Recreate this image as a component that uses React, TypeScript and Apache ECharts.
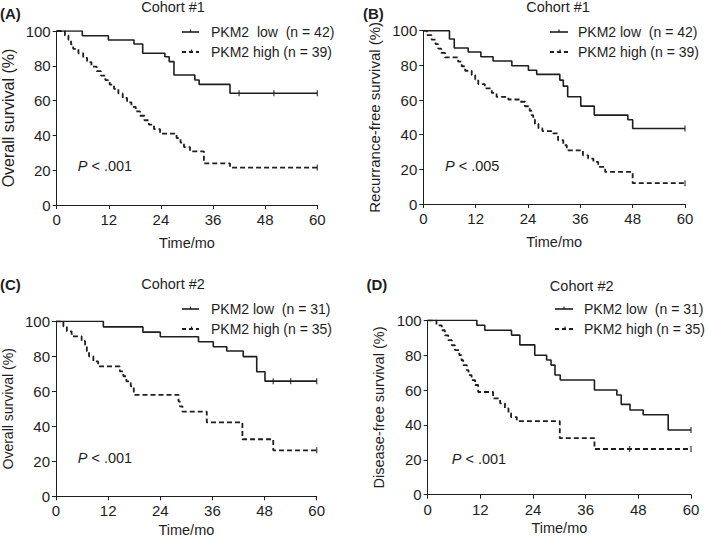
import React, { useEffect, useRef } from "react";
import * as echarts from "echarts";

// ---- Data (months, survival %) ----
const lowA = [[0,100],[5.9,97.3],[11.9,94.8],[17.8,92.5],[19.8,87.2],[24.9,85.2],[25.9,82.4],[27,74.7],[31.8,71.8],[32.8,69.3],[39.9,64.2],[60,64.2]];
const highA = [[0,100],[1.9,97.4],[2.7,94.9],[3.3,92.3],[3.8,89.7],[5,87.2],[6.1,84.6],[7,82.1],[8,79.5],[9.2,76.9],[10.2,74.4],[11.2,71.8],[12.2,69.2],[13.2,66.7],[14.2,64.1],[15.2,61.5],[16.2,59],[17.2,56.4],[18.2,53.8],[19.2,51.3],[20.2,48.7],[21.2,46.2],[22.4,43.6],[23.8,41],[27.6,38.5],[28.5,35.9],[29.3,33.3],[30.7,30.8],[33.9,23.9],[39.9,21.5],[60,21.5]];
const lowB = [[0,100],[6,95.2],[7.1,90],[10.3,87.7],[13.2,85],[16,82.5],[20.3,79.8],[24.1,77.2],[26,74.8],[31.3,71.5],[32.1,68],[33.1,61.9],[36.1,56.5],[39.2,51.3],[46.9,48.6],[48,43.6],[60,43.6]];
const highB = [[0,100],[0.8,97.4],[1.9,94.9],[2.8,92.3],[3.4,89.7],[4.1,87.2],[5,84.6],[8,82.1],[8.8,79.5],[9.6,76.9],[11.1,74.4],[11.9,71.8],[12.6,69.2],[14.1,66.7],[15.7,64.1],[16.8,61.8],[19.5,60.3],[22.2,59],[23.3,56.4],[24.4,53.8],[24.8,51.3],[25.2,48.7],[25.6,46.2],[26.4,43.6],[27.3,42.1],[29.8,40.7],[30.9,36.8],[32.1,33.9],[32.9,31],[36.6,28.1],[37.8,26.2],[39,24.3],[40.1,21.4],[41.7,18.5],[48,12],[60,12]];
const lowC = [[0,100],[10.9,96.8],[20,93.8],[24,91.2],[32.8,88.3],[36.2,85.5],[39.3,83],[43.1,79.8],[46.2,71.2],[48.1,65.8],[60,65.8]];
const highC = [[0,100],[1.7,97.1],[2.5,94.3],[3.6,91.4],[5.9,88.6],[6.7,85.7],[7.1,82.9],[7.6,80],[8.6,77.1],[9.7,74.3],[14.7,71.4],[15.5,68.6],[16.2,65.7],[17.2,62.9],[17.9,58],[28.2,54.2],[28.5,51.4],[29.1,48.4],[34.7,42.3],[42.9,32.6],[50,26.3],[60,26.3]];
const lowD = [[0,100],[11.2,97.2],[13,94.3],[19.1,91.5],[21,85.9],[24.4,80],[27.1,77.2],[28.1,74.3],[29,68.6],[30.2,65.8],[38,60],[43.1,57.2],[44.1,51.8],[46.1,48.6],[49.1,45.8],[54.8,37.1],[60,37.1]];
const highD = [[0,100],[2,97.1],[3.2,94.3],[3.9,91.4],[4.7,88.6],[5.5,85.7],[6.2,82.9],[7.2,80],[7.7,77.1],[8.1,74.3],[8.9,71.4],[9.3,68.6],[10,65.7],[10.8,62.9],[11.5,58.9],[14.9,55.2],[16.5,52.4],[17.6,49.5],[18.4,46.7],[19,44.5],[20.3,42.2],[30.1,32.4],[38,26.2],[60,26.2]];

// censor marks
const censorLowA = [[42,64.2],[50,64.2],[60,64.2]];
const censorHighA = [[60,21.5]];
const censorLowB = [[60,43.6]];
const censorHighB = [[60,12]];
const censorLowC = [[50,65.8],[54,65.8],[60,65.8]];
const censorHighC = [[60,26.3]];
const censorLowD = [[60,37.1]];
const censorHighD = [[46,26.2],[60,26.2]];

const panelLetters = ["(A)", "(B)", "(C)", "(D)"];
const cohortTitles = ["Cohort #1", "Cohort #1", "Cohort #2", "Cohort #2"];
const yAxisNames = ["Overall survival (%)", "Recurrance-free survival (%)", "Overall survival (%)", "Disease-free survival (%)"];
const xAxisName = "Time/mo";
const lowLabels = ["PKM2  low  (n = 42)", "PKM2 low  (n = 42)", "PKM2 low  (n = 31)", "PKM2 low  (n = 31)"];
const highLabels = ["PKM2 high (n = 39)", "PKM2 high (n = 39)", "PKM2 high (n = 35)", "PKM2 high (n = 35)"];
const pValues = ["< .001", "< .005", "< .001", "< .001"];
const xTicks = { min: 0, max: 60, interval: 12 };
const yTicks = { min: 0, max: 100, interval: 20 };

const lowSeries = [lowA, lowB, lowC, lowD];
const highSeries = [highA, highB, highC, highD];
const censorLow = [censorLowA, censorLowB, censorLowC, censorLowD];
const censorHigh = [censorHighA, censorHighB, censorHighC, censorHighD];

// ---- Layout ----
const FONT = '"Liberation Sans", Arial, Helvetica, sans-serif';
const INK = "#1e1e1e";
const grids = [
  { left: 56.7, top: 31, width: 260.6, height: 174 },
  { left: 423.3, top: 30.7, width: 261.7, height: 173.3 },
  { left: 56, top: 321.3, width: 260.7, height: 175 },
  { left: 427.7, top: 320.3, width: 263.3, height: 174.4 },
];
const xNameGaps = [30, 30, 26, 26];
const yNameGaps = [40, 41, 41.5, 41];
const yNameSizes = [16, 15, 14, 14.5];
const letterPos = [[0, 13], [363, 13], [0, 284.7], [366.5, 284.7]];
const titlePos = [[173, 7], [558, 7], [173, 284], [581.7, 286]];
const legendPos = [
  { x1: 182, x2: 199, tx: 211, y1: 32, y2: 52 },
  { x1: 550, x2: 568, tx: 578, y1: 32, y2: 52 },
  { x1: 182, x2: 199, tx: 211, y1: 309, y2: 329 },
  { x1: 555, x2: 573, tx: 584, y1: 309, y2: 329 },
];
const pPos = [[77.7, 165.7], [445, 165.7], [77.7, 458], [451.7, 458.7]];

export default function App() {
  const ref = useRef<HTMLDivElement>(null);
  useEffect(() => {
    if (!ref.current) return;
    const chart = echarts.init(ref.current, null, { renderer: "svg" });
    const textStyle = { fontFamily: FONT, color: INK };

    const gridOpt = grids.map((g) => ({ ...g, containLabel: false, outerBoundsMode: "none" }));
    const xAxes = grids.map((_, i) => ({
      type: "value",
      gridIndex: i,
      min: xTicks.min,
      max: xTicks.max,
      interval: xTicks.interval,
      name: xAxisName,
      nameLocation: "middle",
      nameGap: xNameGaps[i],
      nameTextStyle: { fontFamily: FONT, color: INK, fontSize: 14.5 },
      axisLine: { show: true, onZero: false, lineStyle: { color: INK, width: 1 } },
      axisTick: { show: true, length: 4, lineStyle: { color: INK } },
      axisLabel: { fontFamily: FONT, color: INK, fontSize: 15, margin: 7 },
      splitLine: { show: false },
    }));
    const yAxes = grids.map((_, i) => ({
      type: "value",
      gridIndex: i,
      min: yTicks.min,
      max: yTicks.max,
      interval: yTicks.interval,
      name: yAxisNames[i],
      nameLocation: "middle",
      nameGap: yNameGaps[i],
      nameTextStyle: { fontFamily: FONT, color: INK, fontSize: yNameSizes[i] },
      axisLine: { show: true, onZero: false, lineStyle: { color: INK, width: 1 } },
      axisTick: { show: true, length: 4, lineStyle: { color: INK } },
      axisLabel: { fontFamily: FONT, color: INK, fontSize: 15, margin: 6 },
      splitLine: { show: false },
    }));

    const series: any[] = [];
    for (let i = 0; i < 4; i++) {
      series.push({
        type: "line", name: "PKM2 low", xAxisIndex: i, yAxisIndex: i,
        data: lowSeries[i], step: "end", symbol: "none",
        lineStyle: { color: INK, width: 1.6, type: "solid" },
      });
      series.push({
        type: "line", name: "PKM2 high", xAxisIndex: i, yAxisIndex: i,
        data: highSeries[i], step: "end", symbol: "none",
        lineStyle: { color: INK, width: 1.8, type: [5, 3] },
      });
      series.push({
        type: "scatter", xAxisIndex: i, yAxisIndex: i, data: censorLow[i],
        symbol: "rect", symbolSize: [1.3, 6], itemStyle: { color: INK }, silent: true,
      });
      series.push({
        type: "scatter", xAxisIndex: i, yAxisIndex: i, data: censorHigh[i],
        symbol: "rect", symbolSize: [1.3, 6], itemStyle: { color: INK }, silent: true,
      });
    }

    const graphics: any[] = [];
    for (let i = 0; i < 4; i++) {
      graphics.push({
        type: "text", x: letterPos[i][0], y: letterPos[i][1],
        style: { text: panelLetters[i], font: `bold 15px ${FONT}`, fill: INK, verticalAlign: "middle", align: "left" },
      });
      graphics.push({
        type: "text", x: titlePos[i][0], y: titlePos[i][1],
        style: { text: cohortTitles[i], font: `14.5px ${FONT}`, fill: INK, verticalAlign: "middle", align: "center" },
      });
      const L = legendPos[i];
      graphics.push({ type: "line", shape: { x1: L.x1, y1: L.y1, x2: L.x2, y2: L.y1 }, style: { stroke: INK, lineWidth: 1.6 } });
      graphics.push({ type: "line", shape: { x1: (L.x1 + L.x2) / 2, y1: L.y1 - 2.5, x2: (L.x1 + L.x2) / 2, y2: L.y1 }, style: { stroke: INK, lineWidth: 1.2 } });
      graphics.push({ type: "line", shape: { x1: L.x1, y1: L.y2, x2: L.x2, y2: L.y2 }, style: { stroke: INK, lineWidth: 1.8, lineDash: [4, 3] } });
      graphics.push({ type: "line", shape: { x1: (L.x1 + L.x2) / 2 + 1, y1: L.y2 - 2.5, x2: (L.x1 + L.x2) / 2 + 1, y2: L.y2 }, style: { stroke: INK, lineWidth: 1.2 } });
      graphics.push({
        type: "text", x: L.tx, y: L.y1,
        style: { text: lowLabels[i], font: `14px ${FONT}`, fill: INK, verticalAlign: "middle", align: "left" },
      });
      graphics.push({
        type: "text", x: L.tx, y: L.y2,
        style: { text: highLabels[i], font: `14px ${FONT}`, fill: INK, verticalAlign: "middle", align: "left" },
      });
      graphics.push({
        type: "text", x: pPos[i][0], y: pPos[i][1],
        style: {
          text: `{i|P} ${pValues[i]}`,
          font: `14.5px ${FONT}`, fill: INK, verticalAlign: "middle", align: "left",
          rich: { i: { fontStyle: "italic", fontFamily: FONT, fontSize: 14.5, fill: INK } },
        },
      });
    }

    chart.setOption({
      animation: false,
      backgroundColor: "#ffffff",
      textStyle,
      grid: gridOpt,
      xAxis: xAxes,
      yAxis: yAxes,
      series,
      graphic: graphics,
    });
    return () => chart.dispose();
  }, []);
  return <div ref={ref} style={{ position: "fixed", left: 0, top: 0, width: 709, height: 538 }} />;
}
